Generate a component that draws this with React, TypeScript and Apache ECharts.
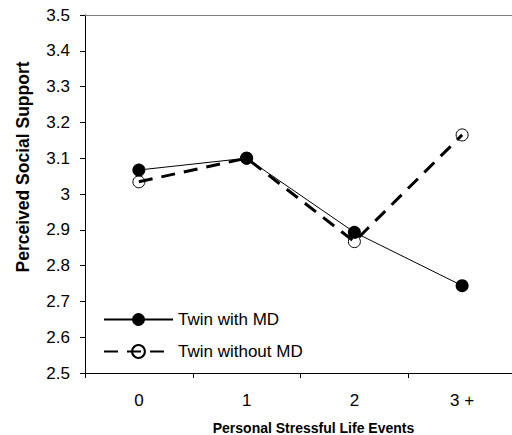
import React, { useEffect, useRef } from "react";
import * as echarts from "echarts";

const categories = ["0", "1", "2", "3 +"];
const withMD = [3.067, 3.1, 2.893, 2.744];
const withoutMD = [3.034, 3.1, 2.867, 3.165];
const seriesNames = ["Twin with MD", "Twin without MD"];
const yMin = 2.5;
const yMax = 3.5;
const yStep = 0.1;

const FONT = "'Liberation Sans', Arial, sans-serif";

export default function App() {
  const ref = useRef<HTMLDivElement>(null);
  useEffect(() => {
    if (!ref.current) return;
    const chart = echarts.init(ref.current, null, { renderer: "svg" });
    chart.setOption({
      animation: false,
      backgroundColor: "#ffffff",
      textStyle: { fontFamily: FONT },
      grid: {
        left: 85,
        top: 15,
        width: 431,
        height: 358,
        containLabel: false,
        outerBoundsMode: "none",
      },
      legend: {
        orient: "vertical",
        left: 98,
        top: 306,
        itemWidth: 69,
        itemHeight: 16,
        itemGap: 15,
        textStyle: { fontFamily: FONT, fontSize: 17, color: "#000" },
        data: seriesNames,
      },
      xAxis: [
        {
          type: "category",
          data: categories,
          boundaryGap: true,
          name: "Personal Stressful Life Events",
          nameLocation: "middle",
          nameGap: 48,
          nameTextStyle: {
            fontFamily: FONT,
            fontSize: 14,
            fontWeight: "bold",
            color: "#000",
            padding: [0, 0, 0, 26],
          },
          axisLine: { lineStyle: { color: "#000", width: 1 } },
          axisTick: { show: true, length: 5, lineStyle: { color: "#000" } },
          axisLabel: { fontFamily: FONT, fontSize: 17, color: "#000", margin: 19 },
          splitLine: { show: false },
        },
        {
          type: "category",
          data: categories,
          position: "top",
          axisLine: { show: true, lineStyle: { color: "#808080", width: 1 } },
          axisTick: { show: false },
          axisLabel: { show: false },
          splitLine: { show: false },
        },
      ],
      yAxis: {
        type: "value",
        min: yMin,
        max: yMax,
        interval: yStep,
        name: "Perceived Social Support",
        nameLocation: "middle",
        nameGap: 53,
        nameTextStyle: {
          fontFamily: FONT,
          fontSize: 17.5,
          fontWeight: "bold",
          color: "#000",
          padding: [0, 0, 0, 54],
        },
        axisLine: { show: true, lineStyle: { color: "#000", width: 1 } },
        axisTick: { show: true, length: 5, lineStyle: { color: "#000" } },
        axisLabel: {
          fontFamily: FONT,
          fontSize: 17,
          color: "#000",
          margin: 15,
          formatter: (v: number) => String(Math.round(v * 10) / 10),
        },
        splitLine: { show: false },
      },
      series: [
        {
          name: seriesNames[1],
          type: "line",
          data: withoutMD,
          symbol: "circle",
          symbolSize: 12,
          itemStyle: { color: "rgba(255,255,255,0)", borderColor: "#000", borderWidth: 1 },
          lineStyle: { color: "#000", width: 3, type: [14, 9] },
          z: 2,
        },
        {
          name: seriesNames[0],
          type: "line",
          data: withMD,
          symbol: "circle",
          symbolSize: 13,
          itemStyle: { color: "#000", borderColor: "#000", borderWidth: 0 },
          lineStyle: { color: "#000", width: 1, type: "solid" },
          z: 3,
        },
      ],
    });
    return () => chart.dispose();
  }, []);
  return (
    <div
      ref={ref}
      style={{ position: "absolute", left: 0, top: 0, width: 512, height: 435 }}
    />
  );
}
